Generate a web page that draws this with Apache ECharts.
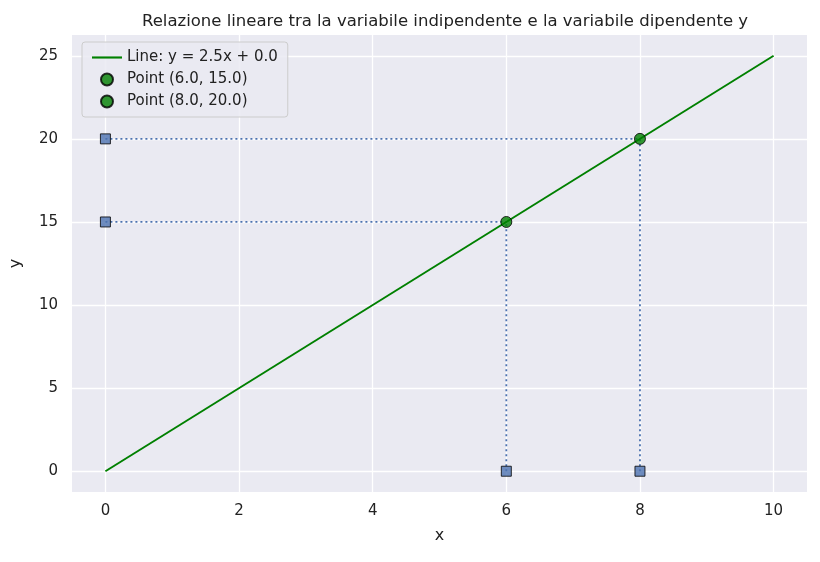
<!DOCTYPE html>
<html><head><meta charset="utf-8">
<script src="https://cdn.jsdelivr.net/npm/echarts@6/dist/echarts.min.js"></script>
<style>html,body{margin:0;background:#fff}#c{width:820px;height:562px}</style>
</head><body><div id="c"></div>
<script>
const lineX = [0, 10];
const slope = 2.5, intercept = 0.0;
const pointsX = [6.0, 8.0];
const pointsY = [15.0, 20.0];
const xTicks = [0, 2, 4, 6, 8, 10];
const yTicks = [0, 5, 10, 15, 20, 25];

const chart = echarts.init(document.getElementById('c'));
const font = 'DejaVu Sans';
const series = [];
series.push({name: 'Line: y = 2.5x + 0.0', type: 'line', data: lineX.map(x => [x, slope*x+intercept]),
  showSymbol: false, lineStyle: {color: '#008000', width: 2}, itemStyle: {color: '#008000'}, z: 3});
pointsX.forEach((px, i) => {
  const py = pointsY[i];
  series.push({type: 'line', data: [[px, 0], [px, py]], showSymbol: false,
    lineStyle: {color: '#4C72B0', type: [2, 3], width: 1.8}, z: 2});
  series.push({type: 'line', data: [[0, py], [px, py]], showSymbol: false,
    lineStyle: {color: '#4C72B0', type: [2, 3], width: 1.8}, z: 2});
  series.push({type: 'scatter', data: [[px, 0], [0, py]], symbol: 'rect', symbolSize: 10, clip: false,
    itemStyle: {color: '#4C72B0', borderColor: '#000', borderWidth: 1}, z: 4});
});
pointsX.forEach((px, i) => {
  series.push({name: 'Point (' + px.toFixed(1) + ', ' + pointsY[i].toFixed(1) + ')', type: 'scatter',
    data: [[px, pointsY[i]]], symbolSize: 11, clip: false,
    itemStyle: {color: '#008000', borderColor: '#000', borderWidth: 1}, z: 5});
});
chart.setOption({
  animation: false,
  backgroundColor: '#fff',
  title: {text: 'Relazione lineare tra la variabile indipendente e la variabile dipendente y', left: 440, top: 8, textAlign: 'center',
    textStyle: {fontFamily: font, fontSize: 16.5, fontWeight: 'normal', color: '#222'}},
  grid: {left: 72, right: 13, top: 35, bottom: 70, show: true, backgroundColor: '#EAEAF2', borderWidth: 0},
  legend: {left: 82, top: 42, orient: 'vertical', itemGap: 7, padding: [8, 10], backgroundColor: 'rgba(234,234,242,0.85)',
    borderColor: '#ccc', borderWidth: 1, borderRadius: 3, itemWidth: 30, itemHeight: 12,
    textStyle: {fontFamily: font, fontSize: 15, color: '#222'},
    data: [{name: 'Line: y = 2.5x + 0.0', icon: 'path://M0,5 L28,5 L28,7 L0,7 Z'},
      {name: 'Point (6.0, 15.0)', icon: 'circle'}, {name: 'Point (8.0, 20.0)', icon: 'circle'}]},
  xAxis: {type: 'value', min: -0.5, max: 10.5, interval: 2, name: 'x', nameLocation: 'middle', nameGap: 36,
    nameTextStyle: {fontFamily: font, fontSize: 16, color: '#222'},
    axisLine: {show: false},
    axisLabel: {fontFamily: font, fontSize: 15, color: '#222', margin: 12,
      customValues: xTicks, formatter: v => xTicks.includes(v) ? String(v) : ''},
    axisTick: {show: false, customValues: xTicks},
    splitLine: {show: true, lineStyle: {color: '#fff', width: 1.3}}},
  yAxis: {type: 'value', min: -1.25, max: 26.25, name: 'y', nameLocation: 'middle', nameGap: 48,
    nameTextStyle: {fontFamily: font, fontSize: 16, color: '#222'},
    axisLine: {show: false}, axisTick: {show: false, customValues: yTicks},
    axisLabel: {fontFamily: font, fontSize: 15, color: '#222', margin: 14, customValues: yTicks},
    splitLine: {show: true, lineStyle: {color: '#fff', width: 1.3}}},
  series: series
});
</script></body></html>
